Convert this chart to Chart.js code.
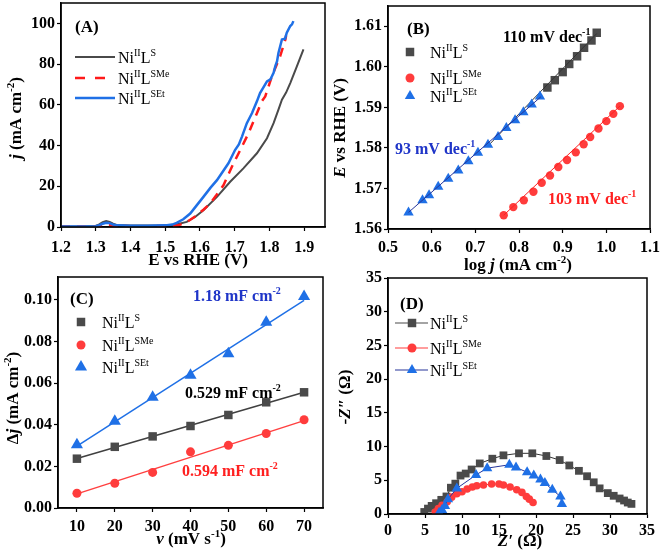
<!DOCTYPE html>
<html>
<head>
<meta charset="utf-8">
<script src="https://cdn.jsdelivr.net/npm/chart.js@4.4.1/dist/chart.umd.min.js"></script>
<style>
  body { margin: 0; background: #fff; }
  #wrap { position: relative; width: 661px; height: 555px; }
  canvas { position: absolute; }
</style>
</head>
<body>
<div id="wrap">
  <canvas id="A" width="330" height="282" style="left:0;top:0"></canvas>
  <canvas id="B" width="331" height="282" style="left:330px;top:0"></canvas>
  <canvas id="C" width="330" height="285" style="left:0;top:270px"></canvas>
  <canvas id="D" width="331" height="285" style="left:330px;top:270px"></canvas>
</div>
<script>
// ---- (A) LSV curves ----
var aXTicks = [1.2, 1.3, 1.4, 1.5, 1.6, 1.7, 1.8, 1.9];
var aYTicks = [0, 20, 40, 60, 80, 100];
var aGreyE = [1.20,1.25,1.30,1.31,1.32,1.33,1.34,1.35,1.36,1.40,1.45,1.50,1.52,1.54,1.562,1.586,1.61,1.649,1.687,1.725,1.764,1.793,1.812,1.826,1.836,1.848,1.86,1.879,1.898];
var aGreyJ = [0.3,0.3,0.5,1.3,2.4,2.9,2.5,1.6,1.0,0.7,0.7,0.8,1.0,1.6,2.5,4.9,8.2,14.8,22.2,28.8,36.2,43.6,51.0,57.6,62.5,66.0,70.7,78.9,87.2];
var aRedE = [1.20,1.25,1.30,1.32,1.33,1.34,1.36,1.40,1.45,1.50,1.52,1.538,1.552,1.57,1.591,1.61,1.629,1.648,1.668,1.692,1.716,1.74,1.764,1.778,1.788,1.807,1.831,1.846,1.848];
var aRedJ = [0.2,0.2,0.3,0.8,1.0,0.9,0.5,0.4,0.4,0.5,0.6,0.8,1.7,3.3,5.8,8.5,11.5,15.8,20.6,29.6,37.8,46.1,55.9,61.7,64.1,74.0,83.9,92.1,94.0];
var aBlueE = [1.20,1.25,1.30,1.31,1.32,1.33,1.34,1.35,1.36,1.40,1.45,1.50,1.52,1.533,1.552,1.572,1.59,1.61,1.63,1.649,1.665,1.682,1.701,1.712,1.721,1.735,1.75,1.764,1.773,1.793,1.803,1.812,1.817,1.822,1.826,1.836,1.845,1.85,1.86,1.865,1.869];
var aBlueJ = [0.3,0.3,0.4,0.9,1.6,2.1,1.9,1.2,0.8,0.6,0.6,0.8,1.2,2.0,3.8,6.6,10.5,14.8,19.2,23.0,27.0,31.3,37.8,40.5,44.4,51.0,56.0,61.7,65.8,71.5,72.5,75.7,79.0,81.4,85.5,92.1,92.5,95.4,98.7,99.5,101.1];

// ---- (B) Tafel plots ----
var bXTicks = [0.5, 0.6, 0.7, 0.8, 0.9, 1.0, 1.1];
var bYTicks = [1.56, 1.57, 1.58, 1.59, 1.60, 1.61];
var bGreyLogJ = [0.865,0.882,0.900,0.915,0.933,0.949,0.966,0.978];
var bGreyE = [1.5949,1.5967,1.5987,1.6007,1.6026,1.6047,1.6065,1.6084];
var bRedLogJ = [0.765,0.787,0.811,0.833,0.852,0.871,0.890,0.910,0.930,0.948,0.963,0.982,1.000,1.016,1.031];
var bRedE = [1.5634,1.5654,1.5671,1.5692,1.5714,1.5732,1.5753,1.5770,1.5789,1.5809,1.5827,1.5848,1.5866,1.5884,1.5903];
var bBlueLogJ = [0.547,0.579,0.594,0.615,0.638,0.661,0.684,0.706,0.729,0.752,0.771,0.791,0.810,0.829,0.848];
var bBlueE = [1.5641,1.5671,1.5683,1.5704,1.5724,1.5744,1.5767,1.5788,1.5808,1.5827,1.5849,1.5868,1.5888,1.5907,1.5927];
var bGreyFitX = [0.73, 0.978], bGreyFitY = [1.5806, 1.6082];
var bRedFitX = [0.765, 1.031], bRedFitY = [1.5634, 1.5903];
var bBlueFitX = [0.547, 0.850], bBlueFitY = [1.5641, 1.5926];

// ---- (C) double layer capacitance ----
var cXTicks = [10, 20, 30, 40, 50, 60, 70];
var cYTicks = [0, 0.02, 0.04, 0.06, 0.08, 0.10];
var cScan = [10, 20, 30, 40, 50, 60, 70];
var cGrey = [0.0237,0.0294,0.0344,0.0394,0.0447,0.0508,0.0556];
var cRed = [0.0071,0.0119,0.0171,0.0270,0.0301,0.0358,0.0424];
var cBlue = [0.0304,0.0417,0.0532,0.0638,0.0741,0.0893,0.1016];
var cFitX = [10, 70];
var cGreyFit = [0.0238, 0.0556];
var cRedFit = [0.0068, 0.0420];
var cBlueFit = [0.0297, 0.0998];

// ---- (D) Nyquist plots ----
var dTicks = [0, 5, 10, 15, 20, 25, 30, 35];
var dGreyRe = [4.9,5.4,5.9,6.5,7.2,7.9,8.5,9.1,9.8,10.5,11.3,12.4,14.1,15.6,17.7,19.5,21.4,23.2,24.5,25.8,26.9,27.8,28.6,29.7,30.5,31.3,31.9,32.4,32.9];
var dGreyIm = [0.3,0.8,1.2,1.6,2.1,2.6,3.9,4.5,5.7,6.0,6.6,7.5,8.2,8.7,9.0,9.0,8.6,8.0,7.2,6.4,5.6,4.7,3.8,3.1,2.7,2.3,2.0,1.7,1.5];
var dRedRe = [6.4,6.8,7.3,8.0,8.6,9.3,10.0,10.7,11.4,12.0,12.9,14.0,15.0,15.6,16.5,17.4,18.1,18.7,19.1,19.6];
var dRedIm = [0.3,0.8,1.3,1.8,2.5,3.0,3.3,3.7,4.0,4.2,4.3,4.45,4.45,4.3,4.0,3.6,3.2,2.6,2.2,1.7];
var dBlueRe = [6.9,7.3,7.7,8.1,9.3,11.9,13.4,16.4,17.3,18.8,19.7,20.6,21.2,22.2,23.3,23.5];
var dBlueIm = [0.2,0.6,1.2,2.2,3.8,5.8,6.8,7.3,6.9,6.2,5.7,5.1,4.6,3.6,2.6,1.5];

var GREY = '#4a4a4a', RED = '#ff3c3c', BLUE = '#1f70e6', NAVY = '#27359a';
var SERIF = '"Liberation Serif", "Times New Roman", serif';

function pts(xs, ys) {
	return xs.map(function(x, i){ return {x: x, y: ys[i]}; });
}

function fontStr(size, bold, italic) {
	return (italic ? 'italic ' : '') + (bold ? 'bold ' : '') + size + 'px ' + SERIF;
}

// draws text made of pieces: 'text' or ['text','i'] / ['text','^'] (superscript)
function drawRich(ctx, t) {
	ctx.save();
	ctx.translate(t.x, t.y);
	if (t.rot) ctx.rotate(t.rot);
	ctx.fillStyle = t.color || '#000';
	ctx.textBaseline = 'alphabetic';
	ctx.textAlign = 'left';
	var parts = t.segs.map(function(s){
		var txt = typeof s === 'string' ? s : s[0];
		var fl = typeof s === 'string' ? '' : s[1];
		var sup = fl.indexOf('^') >= 0;
		var f = fontStr(sup ? Math.round(t.size * 0.64) : t.size, t.bold, fl.indexOf('i') >= 0);
		ctx.font = f;
		return {txt: txt, f: f, sup: sup, w: ctx.measureText(txt).width};
	});
	var total = 0;
	parts.forEach(function(p){ total += p.w; });
	var cx = t.align === 'center' ? -total / 2 : 0;
	var base = t.size * 0.35;
	parts.forEach(function(p){
		ctx.font = p.f;
		ctx.fillText(p.txt, cx, base - (p.sup ? t.size * 0.4 : 0));
		cx += p.w;
	});
	ctx.restore();
}

function marker(ctx, style, x, y, r, color) {
	ctx.save();
	ctx.fillStyle = color;
	ctx.beginPath();
	if (style === 'rect') {
		var s = r * Math.SQRT1_2;
		ctx.rect(x - s, y - s, 2 * s, 2 * s);
	} else if (style === 'circle') {
		ctx.arc(x, y, r, 0, Math.PI * 2);
	} else {
		ctx.moveTo(x, y - r);
		ctx.lineTo(x + r * Math.sin(2 * Math.PI / 3), y - r * Math.cos(2 * Math.PI / 3));
		ctx.lineTo(x + r * Math.sin(4 * Math.PI / 3), y - r * Math.cos(4 * Math.PI / 3));
		ctx.closePath();
	}
	ctx.fill();
	ctx.restore();
}

var NI_S = ['Ni', ['II','^'], 'L', ['S','^']];
var NI_SME = ['Ni', ['II','^'], 'L', ['SMe','^']];
var NI_SET = ['Ni', ['II','^'], 'L', ['SEt','^']];

// text and legend for each panel, in canvas pixels
var panelText = {
	A: {
		texts: [
			{x: 75, y: 26, size: 17, bold: true, segs: ['(A)']},
			{x: 198, y: 259, size: 17, bold: true, align: 'center', segs: ['E vs RHE (V)']},
			{x: 15, y: 118, size: 17, bold: true, align: 'center', rot: -Math.PI / 2, segs: [['j','i'], ' (mA cm', ['-2','^'], ')']}
		],
		legend: {tx: 118, rows: [
			{y: 57, segs: NI_S, line: {x1: 75, x2: 115, color: GREY, w: 2}},
			{y: 78, segs: NI_SME, line: {x1: 75, x2: 115, color: '#ff1a1a', w: 2.5, dash: [10, 10]}},
			{y: 98, segs: NI_SET, line: {x1: 75, x2: 115, color: BLUE, w: 2.5}}
		]}
	},
	B: {
		texts: [
			{x: 77, y: 28, size: 17, bold: true, segs: ['(B)']},
			{x: 173, y: 36, size: 16, bold: true, segs: ['110 mV dec', ['-1','^']]},
			{x: 65, y: 148, size: 16, bold: true, color: '#1f35c8', segs: ['93 mV dec', ['-1','^']]},
			{x: 218, y: 198, size: 16, bold: true, color: '#ff2020', segs: ['103 mV dec', ['-1','^']]},
			{x: 188, y: 264, size: 17, bold: true, align: 'center', segs: ['log ', ['j','i'], ' (mA cm', ['-2','^'], ')']},
			{x: 9, y: 128, size: 17, bold: true, align: 'center', rot: -Math.PI / 2, segs: [['E','i'], ' vs RHE (V)']}
		],
		legend: {tx: 100, rows: [
			{y: 52, segs: NI_S, mk: {style: 'rect', r: 6, color: GREY, x: 80}},
			{y: 78, segs: NI_SME, mk: {style: 'circle', r: 4.5, color: RED, x: 80}},
			{y: 96, segs: NI_SET, mk: {style: 'triangle', r: 6, color: BLUE, x: 80}}
		]}
	},
	C: {
		texts: [
			{x: 70, y: 28, size: 17, bold: true, segs: ['(C)']},
			{x: 193, y: 25, size: 16, bold: true, color: '#1f35c8', segs: ['1.18 mF cm', ['-2','^']]},
			{x: 185, y: 122, size: 16, bold: true, segs: ['0.529 mF cm', ['-2','^']]},
			{x: 182, y: 200, size: 16, bold: true, color: '#ff2020', segs: ['0.594 mF cm', ['-2','^']]},
			{x: 191, y: 268, size: 17, bold: true, align: 'center', segs: [['v','i'], ' (mV s', ['-1','^'], ')']},
			{x: 12, y: 128, size: 17, bold: true, align: 'center', rot: -Math.PI / 2, segs: ['\u0394', ['j','i'], ' (mA cm', ['-2','^'], ')']}
		],
		legend: {tx: 102, rows: [
			{y: 52, segs: NI_S, mk: {style: 'rect', r: 6, color: GREY, x: 81}},
			{y: 75, segs: NI_SME, mk: {style: 'circle', r: 4.5, color: RED, x: 81}},
			{y: 97, segs: NI_SET, mk: {style: 'triangle', r: 7, color: BLUE, x: 81}}
		]}
	},
	D: {
		texts: [
			{x: 70, y: 33, size: 17, bold: true, segs: ['(D)']},
			{x: 190, y: 270, size: 17, bold: true, align: 'center', segs: [['Z\u2032','i'], ' (\u03A9)']},
			{x: 14, y: 127, size: 17, bold: true, align: 'center', rot: -Math.PI / 2, segs: [['-Z\u2033','i'], ' (\u03A9)']}
		],
		legend: {tx: 100, rows: [
			{y: 53, segs: NI_S, line: {x1: 65, x2: 98, color: GREY, w: 1.2}, mk: {style: 'rect', r: 6, color: GREY, x: 82}},
			{y: 78, segs: NI_SME, line: {x1: 65, x2: 98, color: RED, w: 1.2}, mk: {style: 'circle', r: 4.5, color: RED, x: 82}},
			{y: 100, segs: NI_SET, line: {x1: 65, x2: 98, color: NAVY, w: 1.2}, mk: {style: 'triangle', r: 6, color: BLUE, x: 82}}
		]}
	}
};

var panelPlugin = {
	id: 'panelDeco',
	afterDraw: function(chart) {
		var ctx = chart.ctx, a = chart.chartArea;
		ctx.save();
		ctx.strokeStyle = '#000';
		ctx.lineWidth = 1.5;
		ctx.strokeRect(a.left, a.top, a.right - a.left, a.bottom - a.top);
		ctx.restore();
		var p = panelText[chart.canvas.id];
		p.texts.forEach(function(t){ drawRich(ctx, t); });
		p.legend.rows.forEach(function(r){
			if (r.line) {
				ctx.save();
				ctx.strokeStyle = r.line.color;
				ctx.lineWidth = r.line.w;
				if (r.line.dash) ctx.setLineDash(r.line.dash);
				ctx.beginPath();
				ctx.moveTo(r.line.x1, r.y);
				ctx.lineTo(r.line.x2, r.y);
				ctx.stroke();
				ctx.restore();
			}
			if (r.mk) marker(ctx, r.mk.style, r.mk.x, r.y, r.mk.r, r.mk.color);
			drawRich(ctx, {x: p.legend.tx, y: r.y, size: 16, segs: r.segs});
		});
	}
};

var tickFont = {family: SERIF, size: 16, weight: 'bold'};

function scales(o) {
	return {
		x: {
			type: 'linear', min: o.xMin, max: o.xMax,
			afterBuildTicks: function(s){ s.ticks = o.xTicks.map(function(v){ return {value: v}; }); },
			afterFit: function(s){ s.height = o.xH; s.paddingLeft = 0; s.paddingRight = 0; },
			ticks: {font: tickFont, color: '#000', padding: o.xPad, maxRotation: 0, autoSkip: false, callback: o.xFmt},
			grid: {drawOnChartArea: false, tickLength: 4, tickColor: '#000', tickWidth: 1.2},
			border: {color: '#000', width: 1.5}
		},
		y: {
			type: 'linear', min: o.yMin, max: o.yMax,
			afterBuildTicks: function(s){ s.ticks = o.yTicks.map(function(v){ return {value: v}; }); },
			afterFit: function(s){ s.width = o.yW; s.paddingTop = 0; s.paddingBottom = 0; },
			ticks: {font: tickFont, color: '#000', padding: 2, autoSkip: false, callback: o.yFmt},
			grid: {drawOnChartArea: false, tickLength: 4, tickColor: '#000', tickWidth: 1.2},
			border: {color: '#000', width: 1.5}
		}
	};
}

function makeChart(id, datasets, sc, pad) {
	return new Chart(document.getElementById(id), {
		type: 'scatter',
		data: {datasets: datasets},
		options: {
			responsive: false,
			animation: false,
			devicePixelRatio: 1,
			layout: {padding: pad},
			plugins: {legend: {display: false}, tooltip: {enabled: false}},
			scales: sc
		},
		plugins: [panelPlugin]
	});
}

function lineSet(xs, ys, color, w, dash) {
	return {data: pts(xs, ys), showLine: true, pointRadius: 0, borderColor: color, borderWidth: w, borderDash: dash || [], fill: false};
}
function dotSet(xs, ys, style, r, color, lineColor) {
	return {data: pts(xs, ys), showLine: !!lineColor, borderColor: lineColor || color, borderWidth: 1,
		pointStyle: style, pointRadius: r, pointBackgroundColor: color, pointBorderColor: color, pointBorderWidth: 0, pointHoverRadius: r};
}

var f1 = function(v){ return v.toFixed(1); };
var f2 = function(v){ return v.toFixed(2); };
var f0 = function(v){ return String(v); };

makeChart('A', [
	lineSet(aBlueE, aBlueJ, BLUE, 2.5),
	lineSet(aRedE, aRedJ, '#ff1a1a', 2.5, [9, 7]),
	lineSet(aGreyE, aGreyJ, GREY, 2)
], scales({xMin: 1.2, xMax: 1.96, xTicks: aXTicks, xFmt: f1, xH: 55, xPad: 7,
	yMin: 0, yMax: 110, yTicks: aYTicks, yFmt: f0, yW: 61}), {left: 0, right: 5, top: 3, bottom: 0});

makeChart('B', [
	lineSet(bBlueFitX, bBlueFitY, NAVY, 1),
	dotSet(bBlueLogJ, bBlueE, 'triangle', 6, BLUE),
	lineSet(bGreyFitX, bGreyFitY, '#333333', 1),
	dotSet(bGreyLogJ, bGreyE, 'rect', 6, GREY),
	lineSet(bRedFitX, bRedFitY, '#ff2020', 1),
	dotSet(bRedLogJ, bRedE, 'circle', 4.2, RED)
], scales({xMin: 0.5, xMax: 1.1, xTicks: bXTicks, xFmt: f1, xH: 53, xPad: 5,
	yMin: 1.56, yMax: 1.615, yTicks: bYTicks, yFmt: f2, yW: 58}), {left: 0, right: 11, top: 3, bottom: 0});

makeChart('C', [
	dotSet(cScan, cBlue, 'triangle', 7, BLUE),
	dotSet(cScan, cGrey, 'rect', 6, GREY),
	dotSet(cScan, cRed, 'circle', 4.5, RED),
	lineSet(cFitX, cBlueFit, BLUE, 1.5),
	lineSet(cFitX, cGreyFit, '#404040', 1.5),
	lineSet(cFitX, cRedFit, '#ff4040', 1.5)
], scales({xMin: 5, xMax: 75, xTicks: cXTicks, xFmt: f0, xH: 47, xPad: 5,
	yMin: 0, yMax: 0.111, yTicks: cYTicks, yFmt: f2, yW: 58}), {left: 0, right: 5, top: 4, bottom: 0});

makeChart('D', [
	dotSet(dBlueRe, dBlueIm, 'triangle', 6, BLUE, NAVY),
	dotSet(dRedRe, dRedIm, 'circle', 3.8, RED, RED),
	dotSet(dGreyRe, dGreyIm, 'rect', 5.5, GREY, '#333333')
], scales({xMin: 0, xMax: 35, xTicks: dTicks, xFmt: f0, xH: 41, xPad: 3,
	yMin: 0, yMax: 35, yTicks: dTicks, yFmt: f0, yW: 58}), {left: 0, right: 14, top: 8, bottom: 0});
</script>
</body>
</html>
